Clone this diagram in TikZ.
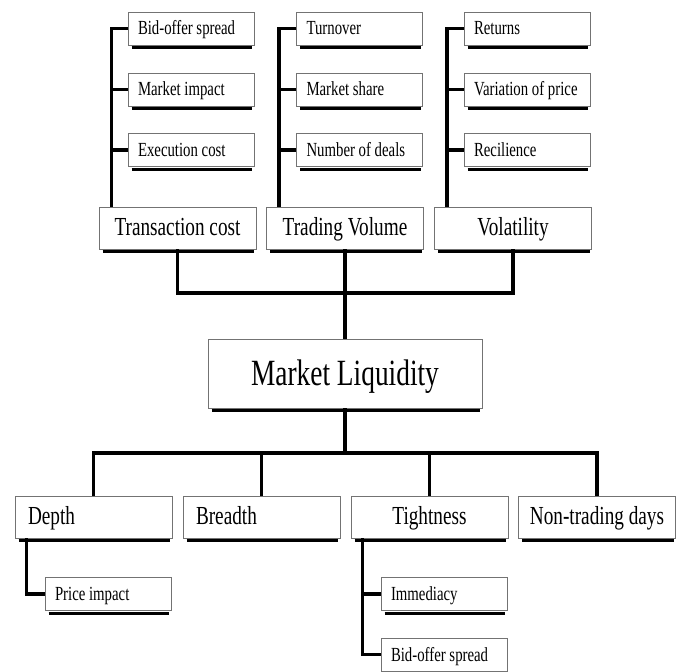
\documentclass[tikz,border=0pt]{standalone}
\usepackage{fontspec}
\setmainfont{Liberation Serif}[FakeStretch=0.74]
\usetikzlibrary{positioning}

\begin{document}
\begin{tikzpicture}[x=1pt,y=-1pt,
    box/.style={draw=black!55,line width=0.8pt,fill=white,inner ysep=0pt},
    leaf/.style={box,font=\fontsize{20}{24}\selectfont,text height=16pt,text depth=3pt,
        inner xsep=10pt,minimum width=126pt,minimum height=33pt,
        execute at begin node={\hbox to 106pt\bgroup},execute at end node={\hfil\egroup}},
    mid/.style={box,font=\fontsize{26}{30}\selectfont,text height=20pt,text depth=5pt,
        minimum width=157pt,minimum height=42pt},
    midleft/.style={mid,inner xsep=13pt,
        execute at begin node={\hbox to 131pt\bgroup},execute at end node={\hfil\egroup}},
    root/.style={box,font=\fontsize{37}{42}\selectfont,text height=29pt,text depth=6pt,
        minimum width=274pt,minimum height=69pt},
    conn/.style={line width=3.5pt}]
\path[use as bounding box,clip] (0,0) rectangle (679,671);

% upper branches
\node[mid] (tc) at (177.5,228) {Transaction cost};
\node[mid] (tv) at (345,228) {Trading Volume};
\node[mid] (vo) at (513,228) {Volatility};
\node[leaf] (a1) at (191,28.5) {Bid-offer spread};
\node[leaf] (a2) at (191,89.5) {Market impact};
\node[leaf] (a3) at (191,150) {Execution cost};
\node[leaf] (b1) at (359.5,28.5) {Turnover};
\node[leaf] (b2) at (359.5,89.5) {Market share};
\node[leaf] (b3) at (359.5,150) {Number of deals};
\node[leaf] (c1) at (527,28.5) {Returns};
\node[leaf] (c2) at (527,89.5) {Variation of price};
\node[leaf] (c3) at (527,150) {Recilience};

\node[root] (ml) at (345,373.5) {Market Liquidity};

% lower branches
\node[midleft] (de) at (93.5,517) {Depth};
\node[midleft] (br) at (261.5,517) {Breadth};
\node[mid] (ti) at (429.5,517) {Tightness};
\node[mid] (nt) at (597,517) {Non-trading days};
\node[leaf] (d1) at (108,594) {Price impact};
\node[leaf] (t1) at (444,594) {Immediacy};
\node[leaf] (t2) at (444,654.5) {Bid-offer spread};

\coordinate (topbus) at (345,293);
\coordinate (botbus) at (345,453);
\draw[conn] (tc.south) |- (topbus) -| (vo.south);
\draw[conn] (tv.south) -- (ml.north);
\draw[conn] (ml.south) -- (botbus);
\draw[conn] (de.north) |- (botbus) -| (nt.north);
\foreach \n in {br,ti}
    \draw[conn] (\n.north) -- (\n.north |- botbus);

\foreach \n in {a1,a2,a3}
    \draw[conn] (\n.west) -| ([xshift=13pt]tc.north west);
\foreach \n in {b1,b2,b3}
    \draw[conn] (\n.west) -| ([xshift=13pt]tv.north west);
\foreach \n in {c1,c2,c3}
    \draw[conn] (\n.west) -| ([xshift=13pt]vo.north west);
\draw[conn] (d1.west) -| ([xshift=12pt]de.south west);
\foreach \n in {t1,t2}
    \draw[conn] (\n.west) -| ([xshift=12pt]ti.south west);

% shadows
\foreach \n in {tc,tv,vo,a1,a2,a3,b1,b2,b3,c1,c2,c3,ml,de,br,ti,nt,d1,t1,t2}
    \draw[line width=3pt] ([xshift=4pt,yshift=-2.2pt]\n.south west) -- ([xshift=-2pt,yshift=-2.2pt]\n.south east);
\end{tikzpicture}
\end{document}
